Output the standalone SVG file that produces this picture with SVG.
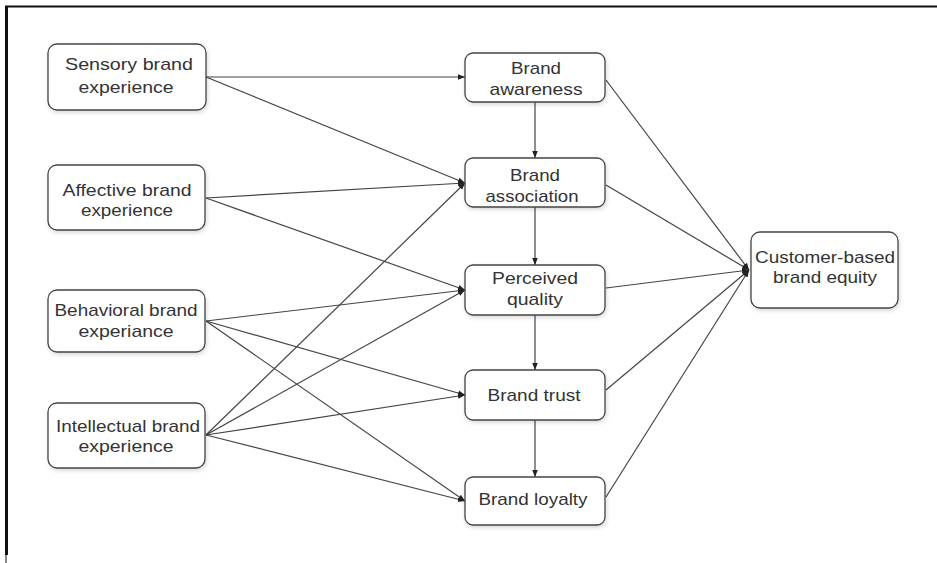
<svg xmlns="http://www.w3.org/2000/svg" width="937" height="563" viewBox="0 0 937 563">
<style>
.box{fill:#fff;stroke:#444;stroke-width:1.3;}
.lbl{font-family:"Liberation Sans",Arial,sans-serif;font-size:17px;fill:#333;text-anchor:middle;}
.edge{stroke:#444;stroke-width:1.2;fill:none;marker-end:url(#ah);}
</style>
<defs>
<marker id="ah" viewBox="0 0 10 10" refX="10" refY="5" markerWidth="7" markerHeight="7" orient="auto" markerUnits="userSpaceOnUse">
<path d="M0,1 L10,5 L0,9 z" fill="#222"/>
</marker>
<filter id="sh" x="-10%" y="-10%" width="125%" height="130%">
<feDropShadow dx="1" dy="2" stdDeviation="2" flood-color="#000" flood-opacity="0.15"/>
</filter>
</defs>
<rect width="937" height="563" fill="#fff"/>
<g id="frame">
<line x1="5" y1="6.5" x2="937" y2="6.5" stroke="#111" stroke-width="2"/>
<line x1="6.5" y1="6" x2="6.5" y2="555" stroke="#111" stroke-width="3"/>
<line x1="6" y1="555" x2="6" y2="563" stroke="#111" stroke-width="1"/>
</g>
<g id="connectors">
<line class="edge" x1="206" y1="77" x2="465" y2="77"/>
<line class="edge" x1="206" y1="77" x2="465" y2="183"/>
<line class="edge" x1="206" y1="198" x2="465" y2="183"/>
<line class="edge" x1="206" y1="198" x2="465" y2="290"/>
<line class="edge" x1="206" y1="321" x2="465" y2="290"/>
<line class="edge" x1="206" y1="321" x2="465" y2="395"/>
<line class="edge" x1="206" y1="321" x2="465" y2="501"/>
<line class="edge" x1="206" y1="435" x2="465" y2="183"/>
<line class="edge" x1="206" y1="435" x2="465" y2="290"/>
<line class="edge" x1="206" y1="435" x2="465" y2="395"/>
<line class="edge" x1="206" y1="435" x2="465" y2="501"/>
<line class="edge" x1="535" y1="102" x2="535" y2="158"/>
<line class="edge" x1="535" y1="207" x2="535" y2="265"/>
<line class="edge" x1="535" y1="315" x2="535" y2="370"/>
<line class="edge" x1="535" y1="420" x2="535" y2="477"/>
<line class="edge" x1="606" y1="80" x2="749" y2="270"/>
<line class="edge" x1="606" y1="185" x2="749" y2="270"/>
<line class="edge" x1="606" y1="288" x2="749" y2="270"/>
<line class="edge" x1="606" y1="390" x2="749" y2="270"/>
<line class="edge" x1="606" y1="497" x2="749" y2="270"/>
</g>
<g id="sensory">
<rect class="box" filter="url(#sh)" x="48" y="44" width="158" height="66" rx="9"/>
<text class="lbl" x="129" y="70" textLength="128" lengthAdjust="spacingAndGlyphs">Sensory brand</text>
<text class="lbl" x="126" y="93" textLength="95" lengthAdjust="spacingAndGlyphs">experience</text>
</g>
<g id="affective">
<rect class="box" filter="url(#sh)" x="48" y="165" width="157" height="65" rx="9"/>
<text class="lbl" x="127" y="196" textLength="129" lengthAdjust="spacingAndGlyphs">Affective brand</text>
<text class="lbl" x="127" y="216" textLength="92" lengthAdjust="spacingAndGlyphs">experience</text>
</g>
<g id="behavioral">
<rect class="box" filter="url(#sh)" x="48" y="290" width="157" height="62" rx="9"/>
<text class="lbl" x="126" y="316" textLength="143" lengthAdjust="spacingAndGlyphs">Behavioral brand</text>
<text class="lbl" x="126" y="337" textLength="95" lengthAdjust="spacingAndGlyphs">experiance</text>
</g>
<g id="intellectual">
<rect class="box" filter="url(#sh)" x="48" y="403" width="157" height="65" rx="9"/>
<text class="lbl" x="128" y="432" textLength="144" lengthAdjust="spacingAndGlyphs">Intellectual brand</text>
<text class="lbl" x="126" y="452" textLength="95" lengthAdjust="spacingAndGlyphs">experience</text>
</g>
<g id="awareness">
<rect class="box" filter="url(#sh)" x="465" y="53" width="140" height="49" rx="8"/>
<text class="lbl" x="536" y="74" textLength="50" lengthAdjust="spacingAndGlyphs">Brand</text>
<text class="lbl" x="536" y="95" textLength="93" lengthAdjust="spacingAndGlyphs">awareness</text>
</g>
<g id="association">
<rect class="box" filter="url(#sh)" x="465" y="158" width="140" height="49" rx="8"/>
<text class="lbl" x="535" y="181" textLength="50" lengthAdjust="spacingAndGlyphs">Brand</text>
<text class="lbl" x="532" y="202" textLength="93" lengthAdjust="spacingAndGlyphs">association</text>
</g>
<g id="perceived">
<rect class="box" filter="url(#sh)" x="465" y="265" width="140" height="50" rx="8"/>
<text class="lbl" x="535" y="284" textLength="86" lengthAdjust="spacingAndGlyphs">Perceived</text>
<text class="lbl" x="535" y="305" textLength="56" lengthAdjust="spacingAndGlyphs">quality</text>
</g>
<g id="trust">
<rect class="box" filter="url(#sh)" x="465" y="370" width="140" height="50" rx="8"/>
<text class="lbl" x="534" y="401" textLength="93" lengthAdjust="spacingAndGlyphs">Brand trust</text>
</g>
<g id="loyalty">
<rect class="box" filter="url(#sh)" x="465" y="477" width="140" height="48" rx="8"/>
<text class="lbl" x="533" y="505" textLength="109" lengthAdjust="spacingAndGlyphs">Brand loyalty</text>
</g>
<g id="equity">
<rect class="box" filter="url(#sh)" x="751" y="232" width="147" height="76" rx="9"/>
<text class="lbl" x="825" y="263" textLength="140" lengthAdjust="spacingAndGlyphs">Customer-based</text>
<text class="lbl" x="825" y="283" textLength="104" lengthAdjust="spacingAndGlyphs">brand equity</text>
</g>
</svg>
